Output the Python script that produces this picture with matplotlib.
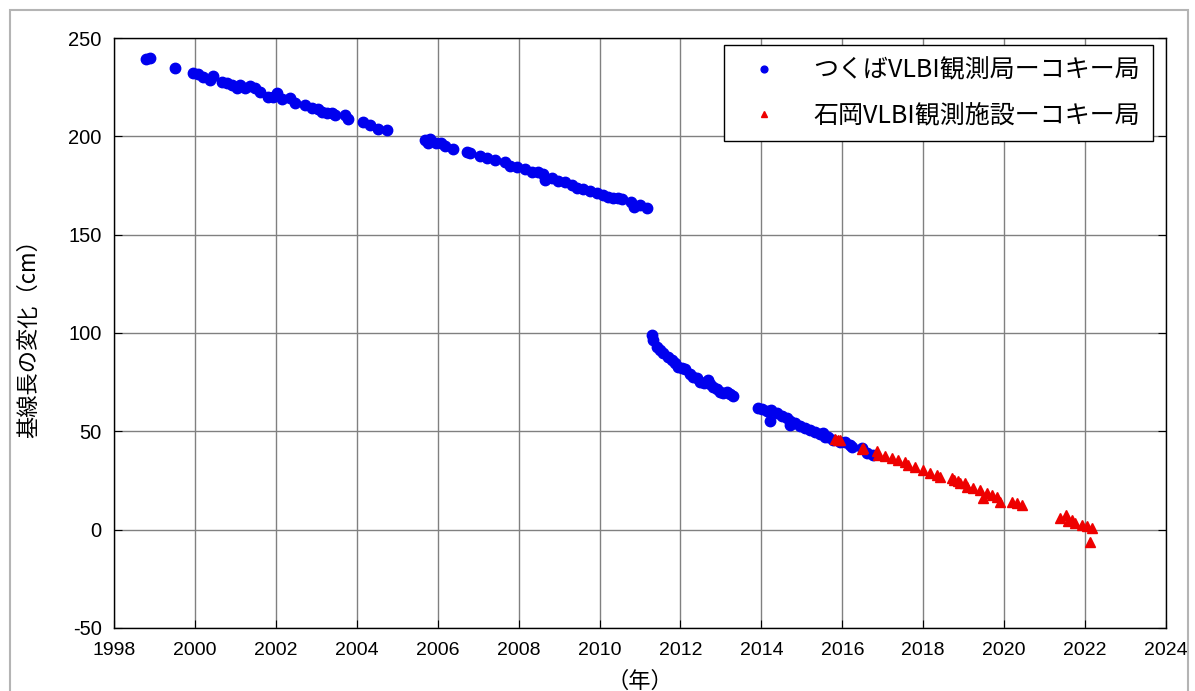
import matplotlib
matplotlib.use("Agg")
import matplotlib.pyplot as plt
from matplotlib.patches import Rectangle

plt.rcParams["axes.unicode_minus"] = False

# ─── Data ────────────────────────────────────────────────────────────────
tsukuba_year = [
    1998.80, 1998.88, 1999.50,
    1999.96, 2000.08, 2000.21, 2000.37, 2000.44, 2000.66, 2000.79, 2000.91,
    2001.03, 2001.11, 2001.24, 2001.36, 2001.48, 2001.61, 2001.81, 2001.94,
    2002.04, 2002.14, 2002.35, 2002.47, 2002.72, 2002.89, 2003.05, 2003.13,
    2003.26, 2003.38, 2003.46, 2003.71, 2003.79, 2004.16, 2004.33, 2004.53,
    2004.74,
    2005.69, 2005.76, 2005.82, 2005.95, 2006.09, 2006.17, 2006.39, 2006.72,
    2006.79, 2007.05, 2007.21, 2007.42, 2007.66, 2007.79, 2007.95, 2008.16,
    2008.32, 2008.49, 2008.61, 2008.65, 2008.82, 2008.98, 2009.15, 2009.31,
    2009.44, 2009.60, 2009.76, 2009.93, 2010.09, 2010.22, 2010.34, 2010.46,
    2010.55, 2010.79, 2010.84, 2011.00, 2011.17,
    2011.29, 2011.33, 2011.41, 2011.50, 2011.58, 2011.70, 2011.78, 2011.87,
    2011.95, 2012.03, 2012.11, 2012.24, 2012.32, 2012.40, 2012.48, 2012.57,
    2012.69, 2012.73, 2012.81, 2012.90, 2012.98, 2013.06, 2013.14, 2013.23,
    2013.31,
    2013.92, 2014.01, 2014.13, 2014.21, 2014.25, 2014.38, 2014.50, 2014.63,
    2014.71, 2014.71, 2014.83, 2014.96, 2015.08, 2015.20, 2015.33, 2015.45,
    2015.53, 2015.57, 2015.65, 2015.78, 2015.94, 2016.07, 2016.19, 2016.23,
    2016.48, 2016.60, 2016.77,
]
tsukuba_cm = [
    239.5, 240.0, 234.6,
    232.4, 231.7, 230.3, 228.6, 230.7, 227.8, 227.0, 226.1,
    224.4, 226.1, 224.4, 225.6, 224.4, 222.7, 220.2, 220.2,
    222.2, 218.8, 219.3, 217.1, 215.9, 214.2, 213.7, 212.5,
    212.0, 211.7, 210.9, 210.9, 208.7, 207.5, 205.8, 203.6,
    203.2,
    198.1, 196.5, 198.5, 196.8, 196.5, 195.1, 193.4, 192.2,
    191.4, 190.2, 189.2, 188.0, 186.8, 185.1, 184.6, 183.4,
    182.0, 181.7, 180.7, 177.8, 178.7, 177.3, 176.6, 175.3,
    173.9, 173.2, 172.2, 171.0, 170.2, 169.3, 168.5, 168.8,
    168.1, 166.8, 164.2, 165.1, 163.7,
    99.0, 96.5, 93.1, 91.4, 89.7, 88.0, 86.3, 84.6,
    82.9, 82.1, 81.6, 79.0, 77.8, 77.0, 75.3, 74.5,
    76.1, 73.9, 72.7, 71.6, 70.2, 69.4, 70.2, 68.9,
    68.2,
    62.0, 61.4, 60.4, 55.0, 60.9, 59.2, 58.0, 56.7,
    55.3, 53.3, 54.1, 52.9, 51.9, 50.7, 49.9, 48.5,
    49.0, 47.3, 47.3, 45.6, 44.8, 44.8, 43.1, 42.2,
    41.4, 38.9, 38.0,
]

ishioka_year = [
    2015.82, 2015.90, 2015.94, 2016.48, 2016.52, 2016.85, 2016.89, 2017.06,
    2017.22, 2017.38, 2017.55, 2017.63, 2017.80, 2018.00, 2018.17, 2018.33,
    2018.42, 2018.70, 2018.75, 2018.87, 2018.91, 2019.03, 2019.08, 2019.24,
    2019.41, 2019.49, 2019.57, 2019.69, 2019.82, 2019.90, 2020.19, 2020.31,
    2020.43, 2021.38, 2021.54, 2021.59, 2021.67, 2021.75, 2021.92, 2022.04,
    2022.12, 2022.16,
]
ishioka_cm = [
    46.3, 45.6, 45.5, 41.1, 41.4, 40.0, 38.0, 37.2,
    36.3, 35.5, 34.6, 32.9, 32.1, 30.4, 28.7, 27.8,
    27.0, 26.1, 25.3, 24.8, 23.6, 23.6, 21.9, 21.1,
    20.2, 16.0, 18.6, 17.7, 16.5, 14.3, 14.3, 13.5,
    12.6, 5.8, 7.5, 4.2, 5.0, 3.4, 2.5, 2.0,
    -6.1, 0.8,
]

x_ticks = list(range(1998, 2025, 2))
y_ticks = list(range(-50, 251, 50))

LABEL_TSUKUBA = "つくばVLBI観測局ーコキー局"
LABEL_ISHIOKA = "石岡VLBI観測施設ーコキー局"

JP_FONT = ["Noto Sans CJK JP", "DejaVu Sans"]
NUM_FONT = ["Liberation Sans", "DejaVu Sans"]
BLUE = "#0000ee"
RED = "#ee0000"

# ─── Figure ──────────────────────────────────────────────────────────────
fig = plt.figure(figsize=(11.95, 6.91), dpi=100)
ax = fig.add_axes([0.0954, 0.0912, 0.8803, 0.8538])

ax.plot(tsukuba_year, tsukuba_cm, "o", color=BLUE, ms=7.5, mec=BLUE,
        label=LABEL_TSUKUBA, zorder=3)
ax.plot(ishioka_year, ishioka_cm, "^", color=RED, ms=7, mec=RED,
        label=LABEL_ISHIOKA, zorder=4)

ax.set_xlim(1998, 2024)
ax.set_ylim(-50, 250)
ax.set_xticks(x_ticks)
ax.set_yticks(y_ticks)
ax.grid(color="#808080", lw=1.0)
ax.tick_params(direction="in", length=6, color="black", right=True, top=False)
ax.tick_params(axis="y", labelsize=14.5, pad=9)
ax.tick_params(axis="x", labelsize=14, pad=10)
for lab in ax.get_yticklabels() + ax.get_xticklabels():
    lab.set_family(NUM_FONT)
for spine in ax.spines.values():
    spine.set_color("black")
    spine.set_linewidth(1.0)

ax.set_ylabel("基線長の変化（cm）", family=JP_FONT, fontsize=16, labelpad=20)
ax.set_xlabel("（年）", family=JP_FONT, fontsize=16, labelpad=8)

leg = ax.legend(loc="upper right", bbox_to_anchor=(0.9876, 0.988),
                prop={"family": JP_FONT, "size": 18},
                fancybox=False, edgecolor="black", framealpha=1,
                borderpad=0.5, labelspacing=0.75, handlelength=2.2,
                handletextpad=0.9, borderaxespad=0, markerscale=0.65)
leg.get_frame().set_linewidth(1.0)

# light grey frame round the whole picture
fig.patches.append(Rectangle((10 / 1195, -0.02), 1178 / 1195, 1 - 10 / 691 + 0.02,
                             transform=fig.transFigure, fill=False,
                             edgecolor="#b4b4b4", lw=1.5))

fig.savefig("out.png", dpi=100)
